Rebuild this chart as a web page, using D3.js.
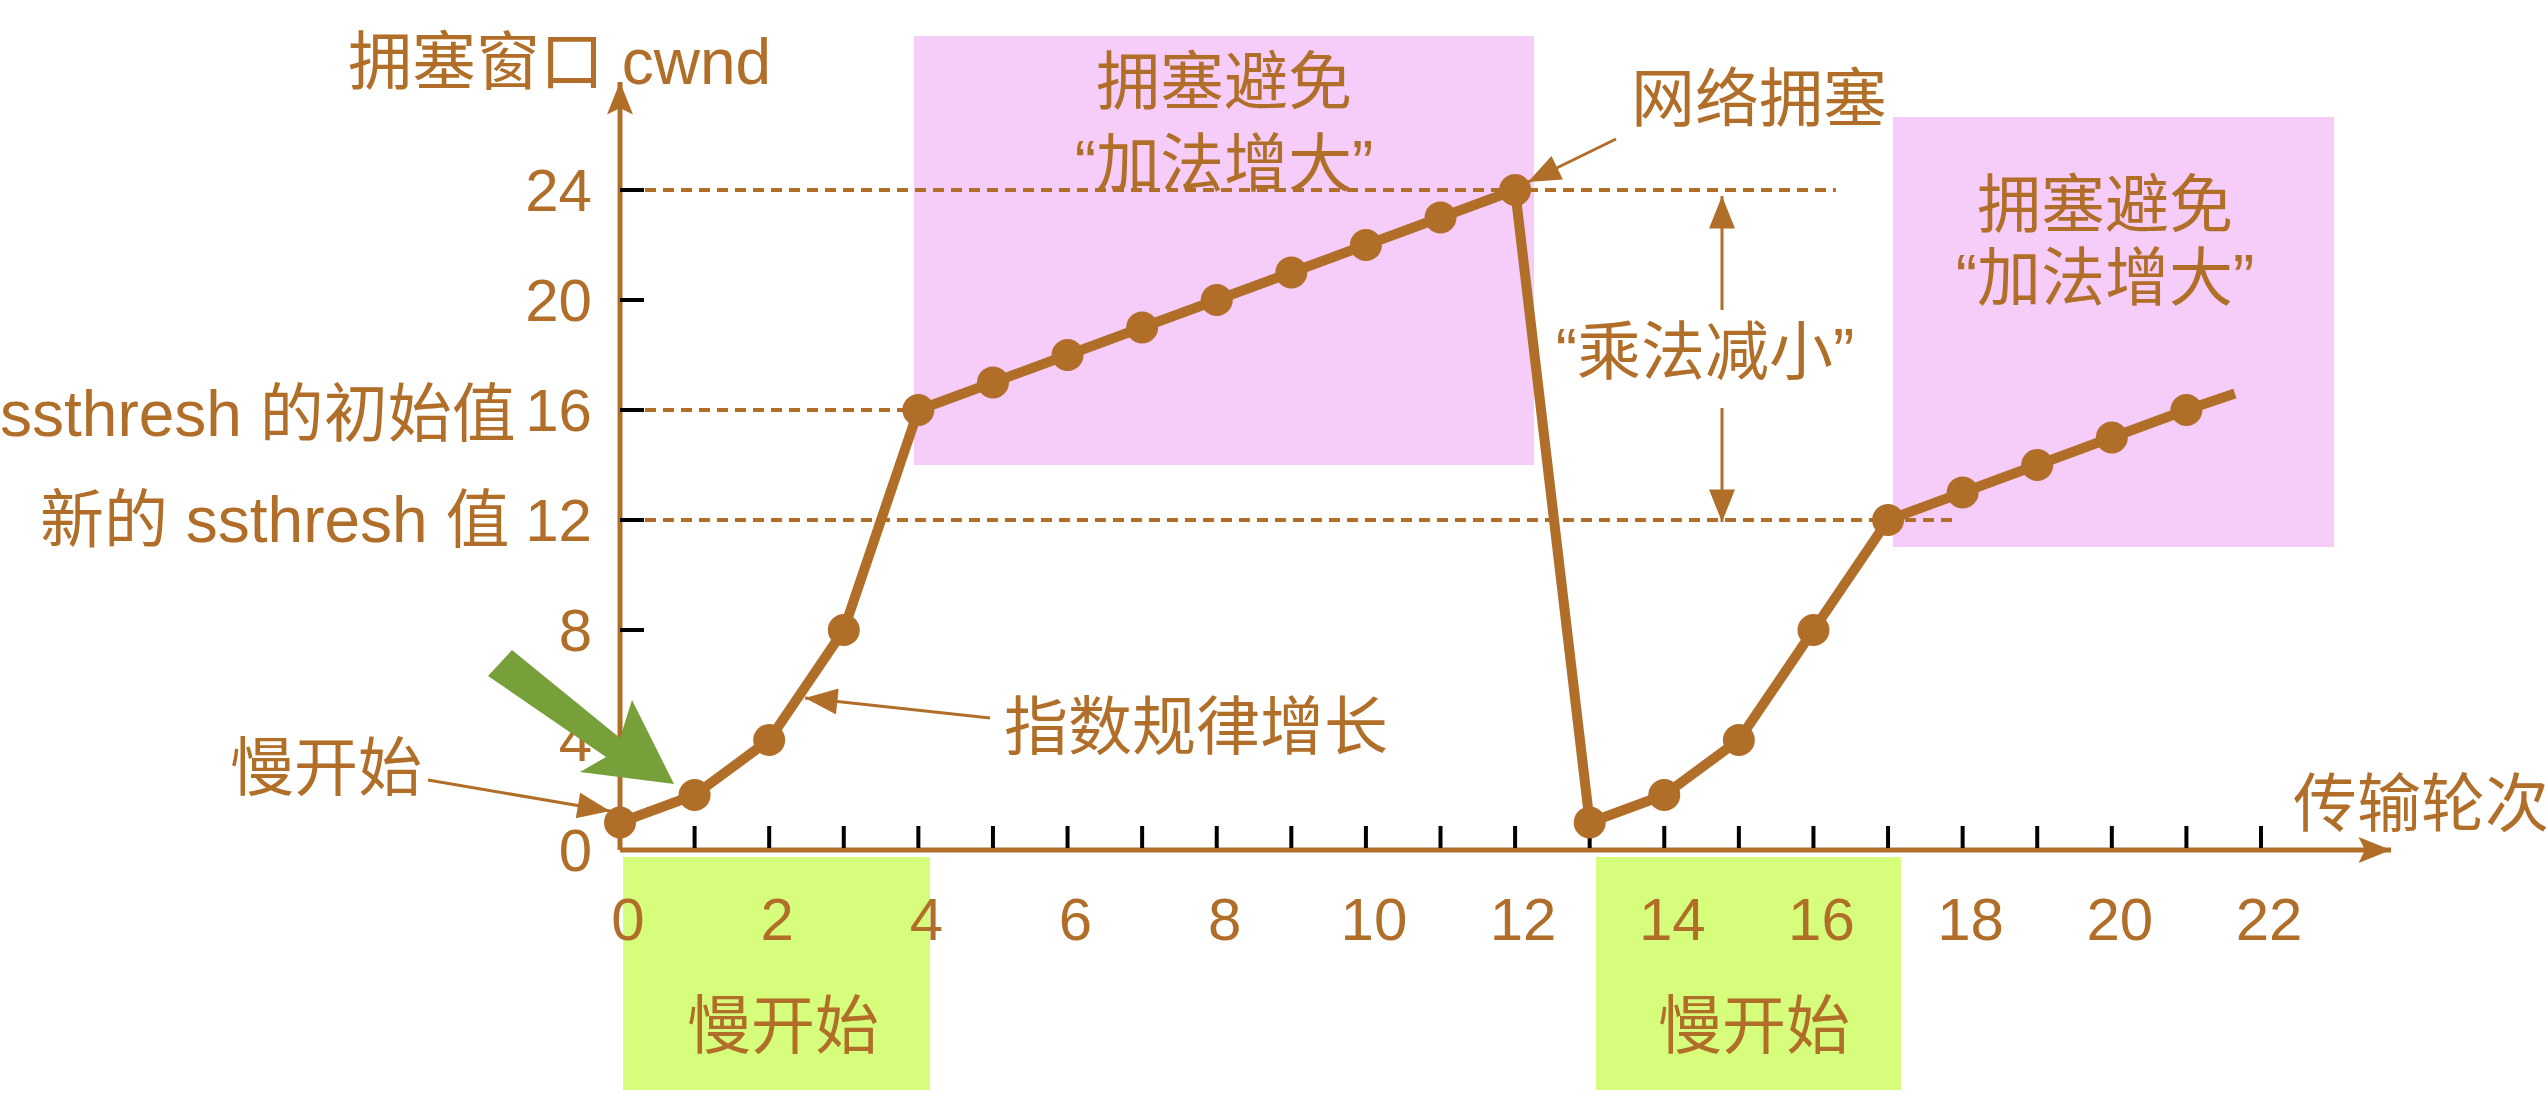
<!DOCTYPE html>
<html>
<head>
  <meta charset="utf-8">
  <script src="https://d3js.org/d3.v7.min.js"></script>
  <style>
    body { margin: 0; background: #fff; }
    text { font-family: "Liberation Sans", "Noto Sans CJK SC", sans-serif; fill: #b06e28; }
  </style>
</head>
<body>
  <svg id="chart" width="2546" height="1102"></svg>
  <script>
    // transmission rounds and cwnd values
    var rounds = [0, 1, 2, 3, 4, 5, 6, 7, 8, 9, 10, 11, 12, 13, 14, 15, 16, 17, 18, 19, 20, 21, 21.65];
    var cwnd = [1, 2, 4, 8, 16, 17, 18, 19, 20, 21, 22, 23, 24, 1, 2, 4, 8, 12, 13, 14, 15, 16, 16.6];
    var dotted = rounds.slice(0, 22);
    var xTicks = [0, 2, 4, 6, 8, 10, 12, 14, 16, 18, 20, 22];
    var yTicks = [0, 4, 8, 12, 16, 20, 24];
    var thresholds = [{ v: 24, to: 16.3 }, { v: 16, to: 4 }, { v: 12, to: 17.9 }];

    var brown = "#b06e28";
    var svg = d3.select("#chart");
    var x = d3.scaleLinear().domain([0, 22]).range([620, 2261]);
    var y = d3.scaleLinear().domain([0, 24]).range([850, 190]);

    var defs = svg.append("defs");
    defs.append("marker").attr("id", "ah").attr("viewBox", "0 0 10 8").attr("refX", 10).attr("refY", 4)
      .attr("markerWidth", 34).attr("markerHeight", 26).attr("orient", "auto-start-reverse")
      .attr("markerUnits", "userSpaceOnUse")
      .append("path").attr("d", "M0,0 L10,4 L0,8 Z").attr("fill", brown);
    defs.append("marker").attr("id", "big").attr("viewBox", "0 0 10 8").attr("refX", 10).attr("refY", 4)
      .attr("markerWidth", 40).attr("markerHeight", 26).attr("orient", "auto-start-reverse")
      .attr("markerUnits", "userSpaceOnUse")
      .append("path").attr("d", "M0,0 L10,4 L0,8 L2,4 Z").attr("fill", brown);

    // shaded phases
    var boxes = [
      [914, 36, 1534, 465, "#f5cdf8"], [1893, 117, 2334, 547, "#f5cdf8"],
      [623, 857, 930, 1090, "#d6fd7b"], [1596, 857, 1901, 1090, "#d6fd7b"]
    ];
    svg.selectAll("rect.box").data(boxes).join("rect")
      .attr("x", d => d[0]).attr("y", d => d[1]).attr("width", d => d[2] - d[0]).attr("height", d => d[3] - d[1])
      .attr("fill", d => d[4]);

    // threshold dashed lines
    svg.selectAll("line.th").data(thresholds).join("line")
      .attr("x1", 645).attr("x2", d => x(d.to)).attr("y1", d => y(d.v)).attr("y2", d => y(d.v))
      .attr("stroke", brown).attr("stroke-width", 4).attr("stroke-dasharray", "11,7");

    // axes
    svg.append("line").attr("x1", x(0)).attr("x2", 2391).attr("y1", y(0)).attr("y2", y(0))
      .attr("stroke", brown).attr("stroke-width", 5).attr("marker-end", "url(#big)");
    svg.append("line").attr("x1", x(0)).attr("x2", x(0)).attr("y1", y(0)).attr("y2", 82)
      .attr("stroke", brown).attr("stroke-width", 5).attr("marker-end", "url(#big)");
    svg.selectAll("line.xt").data(d3.range(1, 23)).join("line")
      .attr("x1", d => x(d)).attr("x2", d => x(d)).attr("y1", y(0) - 2).attr("y2", y(0) - 24)
      .attr("stroke", "#000").attr("stroke-width", 4);
    svg.selectAll("line.yt").data(yTicks.slice(1)).join("line")
      .attr("x1", x(0)).attr("x2", x(0) + 24).attr("y1", d => y(d)).attr("y2", d => y(d))
      .attr("stroke", "#000").attr("stroke-width", 4);
    svg.selectAll("text.xl").data(xTicks).join("text")
      .attr("x", d => x(d) + 8).attr("y", 940).attr("text-anchor", "middle")
      .attr("font-size", 60).text(d => d);
    svg.selectAll("text.yl").data(yTicks).join("text")
      .attr("x", 592).attr("y", d => y(d) + 21).attr("text-anchor", "end")
      .attr("font-size", 60).text(d => d);

    // cwnd line and points
    svg.append("path").datum(rounds.map((r, i) => [r, cwnd[i]]))
      .attr("d", d3.line().x(d => x(d[0])).y(d => y(d[1])))
      .attr("fill", "none").attr("stroke", brown).attr("stroke-width", 10).attr("stroke-linejoin", "round");
    svg.selectAll("circle").data(dotted).join("circle")
      .attr("cx", d => x(d)).attr("cy", (d, i) => y(cwnd[i])).attr("r", 16).attr("fill", brown);

    // labels
    var labels = [
      ["拥塞窗口 cwnd", 348, 84, "start"],
      ["ssthresh 的初始值", 0, 436, "start"],
      ["新的 ssthresh 值", 40, 542, "start"],
      ["传输轮次", 2293, 826, "start"],
      ["拥塞避免", 1224, 104, "middle"], ["“加法增大”", 1224, 186, "middle"],
      ["拥塞避免", 2105, 227, "middle"], ["“加法增大”", 2105, 300, "middle"],
      ["慢开始", 783, 1048, "middle"], ["慢开始", 1754, 1048, "middle"],
      ["网络拥塞", 1759, 121, "middle"], ["“乘法减小”", 1705, 374, "middle"],
      ["指数规律增长", 1004, 749, "start"], ["慢开始", 326, 790, "middle"]
    ];
    svg.selectAll("text.lab").data(labels).join("text")
      .attr("x", d => d[1]).attr("y", d => d[2]).attr("text-anchor", d => d[3])
      .attr("font-size", 64).text(d => d[0]);

    // annotation arrows
    var arrows = [
      [1616, 139, 1528, 182], [990, 718, 805, 698], [428, 780, 610, 811],
      [1722, 310, 1722, 196], [1722, 408, 1722, 522]
    ];
    svg.selectAll("line.ar").data(arrows).join("line")
      .attr("x1", d => d[0]).attr("y1", d => d[1]).attr("x2", d => d[2]).attr("y2", d => d[3])
      .attr("stroke", brown).attr("stroke-width", 3).attr("marker-end", "url(#ah)");

    // green block arrow
    svg.append("path")
      .attr("d", "M488,676 L512,650 L620,738 L632,700 L674,784 L580,772 L606,757 Z")
      .attr("fill", "#78a03a");
  </script>
</body>
</html>
